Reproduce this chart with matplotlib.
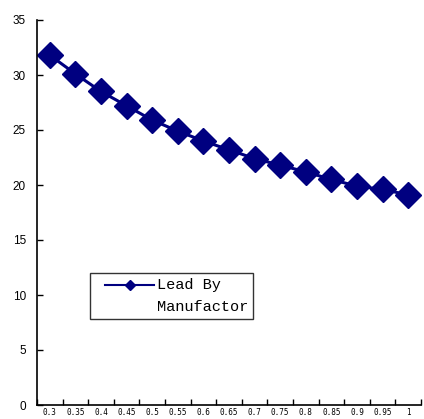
import matplotlib
matplotlib.use("Agg")
import matplotlib.pyplot as plt
from matplotlib.legend_handler import HandlerLine2D
from matplotlib.lines import Line2D
import numpy as np

categories = ["0.3", "0.35", "0.4", "0.45", "0.5", "0.55", "0.6", "0.65", "0.7",
              "0.75", "0.8", "0.85", "0.9", "0.95", "1"]
values = [31.8, 30.1, 28.5, 27.2, 25.9, 24.9, 24.0, 23.2, 22.4, 21.8, 21.2,
          20.5, 19.9, 19.6, 19.1]
series_name = "Lead By\nManufactor"
yticks = [0, 5, 10, 15, 20, 25, 30, 35]


class TopLineHandler(HandlerLine2D):
    def create_artists(self, legend, orig_handle, xdescent, ydescent,
                       width, height, fontsize, trans):
        artists = super().create_artists(legend, orig_handle, xdescent, ydescent,
                                         width, height, fontsize, trans)
        for a in artists:
            a.set_ydata(np.asarray(a.get_ydata()) + fontsize * 0.72)
        return artists


fig = plt.figure(figsize=(4.24, 4.19), dpi=100)
ax = fig.add_axes([37/424, 1-405/419, 384/424, 385/419])

x = np.arange(len(categories))
line, = ax.plot(x, values, color="#000080", lw=2.2, marker="D", markersize=13.5,
                markeredgecolor="#000080", markerfacecolor="#000080", label=series_name)

ax.set_xlim(-0.5, len(categories) - 0.5)
ax.set_ylim(0, 35)
ax.set_yticks(yticks)
ax.set_yticklabels([str(v) for v in yticks], fontsize=8.5, family="Liberation Sans")
ax.set_xticks(np.arange(len(categories) + 1) - 0.5)
ax.set_xticklabels([])
ax.set_xticks(x, minor=True)
ax.set_xticklabels(categories, minor=True, fontsize=5.5, family="DejaVu Sans Mono")
ax.tick_params(axis="x", which="minor", length=0, pad=2)
ax.tick_params(axis="x", which="major", direction="in", length=4, width=1)
ax.tick_params(axis="y", direction="in", length=4, width=1, pad=8)

for s in ["top", "right"]:
    ax.spines[s].set_visible(False)
for s in ["left", "bottom"]:
    ax.spines[s].set_linewidth(1.2)

leg_handle = Line2D([], [], color="#000080", lw=1.5, marker="D", markersize=5.5,
                    markerfacecolor="#000080", markeredgecolor="#000080")
leg = ax.legend([leg_handle], [series_name], loc="upper left",
                bbox_to_anchor=(90/424, 1-273/419),
                bbox_transform=fig.transFigure, fancybox=False,
                handler_map={Line2D: TopLineHandler(xpad=0.7)},
                prop={"family": "Liberation Mono", "size": 11}, borderpad=0.3,
                handlelength=3.9, handletextpad=0.2, borderaxespad=0)
leg.get_frame().set_edgecolor("black")
leg.get_frame().set_linewidth(1.0)
for t in leg.get_texts():
    t.set_linespacing(1.8)

fig.savefig("out.png", dpi=100)
